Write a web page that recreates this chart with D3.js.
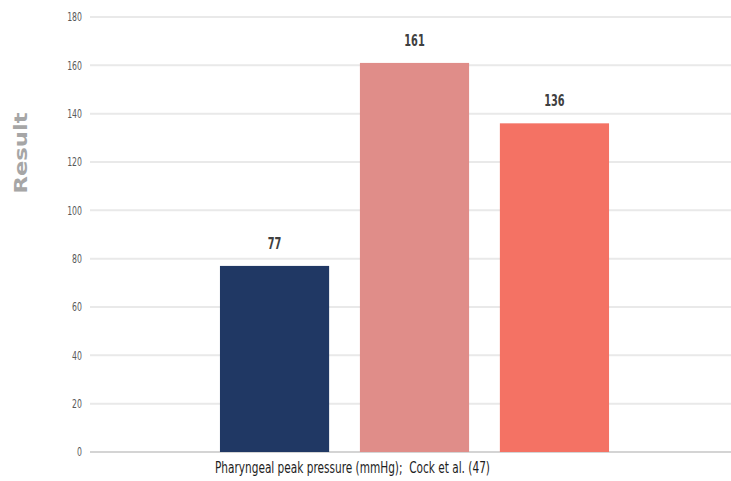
<!DOCTYPE html>
<html>
<head>
<meta charset="utf-8">
<script src="https://cdn.jsdelivr.net/npm/d3@7/dist/d3.min.js"></script>
<style>
  html, body { margin: 0; padding: 0; background: #fff; }
  svg { display: block; }
</style>
</head>
<body>
<svg id="chart" width="731" height="481"></svg>
<script>
// Chart data
const categories = ["Pharyngeal peak pressure (mmHg);  Cock et al. (47)"];
const seriesNames = ["Series A", "Series B", "Series C"];
const seriesValues = [77, 161, 136];
const seriesColors = ["#203864", "#e08d89", "#f47264"];
const yTicks = [0, 20, 40, 60, 80, 100, 120, 140, 160, 180];
const yLabel = "Result";

const svg = d3.select("#chart");
const W = 731, H = 481;
const margin = { top: 17, right: -8, bottom: 29, left: 90 };
const plotW = W - margin.left - margin.right;
const plotH = H - margin.top - margin.bottom;
const condensedFont = "'DejaVu Sans Condensed', 'DejaVu Sans', sans-serif";

// Squeeze a text element horizontally to a fraction of its natural width
function condense(sel, factor) {
  sel.each(function () {
    const w = this.getComputedTextLength();
    d3.select(this).attr("textLength", w * factor).attr("lengthAdjust", "spacingAndGlyphs");
  });
}

const g = svg.append("g").attr("transform", `translate(${margin.left},${margin.top})`);

const y = d3.scaleLinear().domain([0, 180]).range([plotH, 0]);

const x0 = d3.scaleBand()
  .domain(categories)
  .range([0, plotW])
  .paddingInner(0)
  .paddingOuter(0.334);

const x1 = d3.scaleBand()
  .domain(seriesNames)
  .range([0, x0.bandwidth()])
  .paddingInner(0.22)
  .paddingOuter(0);

// Horizontal gridlines
g.append("g")
  .selectAll("line")
  .data(yTicks)
  .join("line")
  .attr("x1", 0)
  .attr("x2", plotW)
  .attr("y1", d => y(d))
  .attr("y2", d => y(d))
  .attr("stroke", d => d === 0 ? "#d4d4d4" : "#e9e9e9")
  .attr("stroke-width", 2);

// Y axis labels
const yAxis = d3.axisLeft(y).tickValues(yTicks).tickSize(0).tickPadding(8);
const yAxisG = g.append("g").call(yAxis);
yAxisG.select(".domain").remove();
yAxisG.selectAll("text")
  .attr("fill", "#595959")
  .style("font-family", condensedFont)
  .style("font-size", "12px")
  .call(condense, 0.72);

// Y axis title
svg.append("text")
  .attr("transform", `translate(27,153) rotate(-90)`)
  .attr("text-anchor", "middle")
  .attr("fill", "#a6a6a6")
  .style("font-family", "'DejaVu Sans', sans-serif")
  .style("font-weight", "bold")
  .style("font-size", "17px")
  .attr("textLength", 81)
  .attr("lengthAdjust", "spacingAndGlyphs")
  .text(yLabel);

// Bars
const groups = g.selectAll("g.cat")
  .data(categories)
  .join("g")
  .attr("class", "cat")
  .attr("transform", d => `translate(${x0(d)},0)`);

const barData = seriesNames.map((s, i) => ({ name: s, value: seriesValues[i], color: seriesColors[i] }));

groups.selectAll("rect")
  .data(barData)
  .join("rect")
  .attr("x", d => x1(d.name))
  .attr("y", d => y(d.value))
  .attr("width", x1.bandwidth())
  .attr("height", d => y(0) - y(d.value))
  .attr("fill", d => d.color);

// Value labels
groups.selectAll("text.val")
  .data(barData)
  .join("text")
  .attr("class", "val")
  .attr("x", d => x1(d.name) + x1.bandwidth() / 2)
  .attr("y", d => y(d.value) - 17)
  .attr("text-anchor", "middle")
  .attr("fill", "#404040")
  .style("font-family", condensedFont)
  .style("font-weight", "bold")
  .style("font-size", "16px")
  .text(d => d.value)
  .call(condense, 0.68);

// Category label
g.selectAll("text.catlabel")
  .data(categories)
  .join("text")
  .attr("class", "catlabel")
  .attr("x", d => x0(d) - 5)
  .attr("y", plotH + 21)
  .attr("fill", "#1e1e1e")
  .style("font-family", condensedFont)
  .style("font-size", "16px")
  .style("white-space", "pre")
  .attr("textLength", 275)
  .attr("lengthAdjust", "spacingAndGlyphs")
  .text(d => d);
</script>
</body>
</html>
